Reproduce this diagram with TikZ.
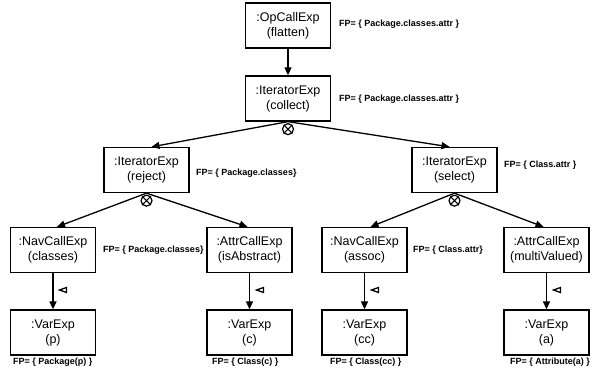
\documentclass[tikz,border=0pt]{standalone}
\usepackage{fontspec}
\setmainfont{Liberation Sans}
\usetikzlibrary{arrows.meta}
\begin{document}
\begin{tikzpicture}[x=1pt,y=-1pt,
  box/.style={draw,line width=1.3pt,minimum width=85pt,minimum height=45pt,inner sep=0pt,align=center,font=\fontsize{12.5}{15}\selectfont},
  fp/.style={anchor=west,inner sep=0pt,font=\fontsize{9}{10}\selectfont\bfseries},
  arr/.style={line width=1.3pt,-{Triangle[length=8pt,width=7pt]}},
  cx/.style={draw,circle,fill=white,line width=1.2pt,minimum size=11pt,inner sep=0pt},
  tri/.style={line width=1.3pt,line join=miter}
]
\useasboundingbox (0,0) rectangle (602,372);

% boxes
\node[box] (op) at (288,25.5) {:OpCallExp\\(flatten)};
\node[box] (col) at (288,98.5) {:IteratorExp\\(collect)};
\node[box] (rej) at (146.5,170) {:IteratorExp\\(reject)};
\node[box] (sel) at (454.5,170) {:IteratorExp\\(select)};
\node[box] (nav1) at (53,250) {:NavCallExp\\(classes)};
\node[box] (attr1) at (249.5,250) {:AttrCallExp\\(isAbstract)};
\node[box] (nav2) at (364.5,250) {:NavCallExp\\(assoc)};
\node[box] (attr2) at (546.5,250) {:AttrCallExp\\(multiValued)};
\node[box] (v1) at (53,332.5) {:VarExp\\(p)};
\node[box] (v2) at (249.5,332.5) {:VarExp\\(c)};
\node[box] (v3) at (364.5,332.5) {:VarExp\\(cc)};
\node[box] (v4) at (546.5,332.5) {:VarExp\\(a)};

% FP labels
\node[fp] (fp1) at (339,24) {FP= \{ Package.classes.attr \}};
\node[fp] (fp2) at (339,99) {FP= \{ Package.classes.attr \}};
\node[fp] (fp3) at (196,173) {FP= \{ Package.classes\}};
\node[fp] (fp4) at (504,165) {FP= \{ Class.attr \}};
\node[fp] (fp5) at (103,250) {FP= \{ Package.classes\}};
\node[fp] (fp6) at (413,250) {FP= \{ Class.attr\}};
\node[fp] (fp7) at (13,362) {FP= \{ Package(p) \}};
\node[fp] (fp8) at (212,362) {FP= \{ Class(c) \}};
\node[fp] (fp9) at (330,362) {FP= \{ Class(cc) \}};
\node[fp] (fp10) at (510,362) {FP= \{ Attribute(a) \}};

% connectors
\draw[arr] (op) -- (col);
\draw[arr] (col.south) -- ([xshift=5pt]rej.north);
\draw[arr] (col.south) -- ([xshift=-5pt]sel.north);
\draw[arr] (rej.south) -- ([xshift=4pt]nav1.north);
\draw[arr] (rej.south) -- ([xshift=-2pt]attr1.north);
\draw[arr] (sel.south) -- ([xshift=6pt]nav2.north);
\draw[arr] (sel.south) -- ([xshift=-3pt]attr2.north);
\draw[arr] (nav1) -- (v1);
\draw[arr] (attr1) -- (v2);
\draw[arr] (nav2) -- (v3);
\draw[arr] (attr2) -- (v4);

% crossed circles
\foreach \p/\n in {col/x1,rej/x2,sel/x3}{
  \node[cx] (\n) at ([yshift=-7.5pt]\p.south) {};
  \draw[line width=1.1pt] (\n.north west) -- (\n.south east) (\n.north east) -- (\n.south west);
}

% small triangles
\foreach \x/\n in {63/t1,260/t2,375/t3,557/t4}{
  \coordinate (\n) at (\x,290);
  \draw[tri] ([xshift=-3.5pt]\n) -- ([xshift=3.5pt,yshift=2.5pt]\n) -- ([xshift=3.5pt,yshift=-2.5pt]\n) -- cycle;
}
\end{tikzpicture}
\end{document}
